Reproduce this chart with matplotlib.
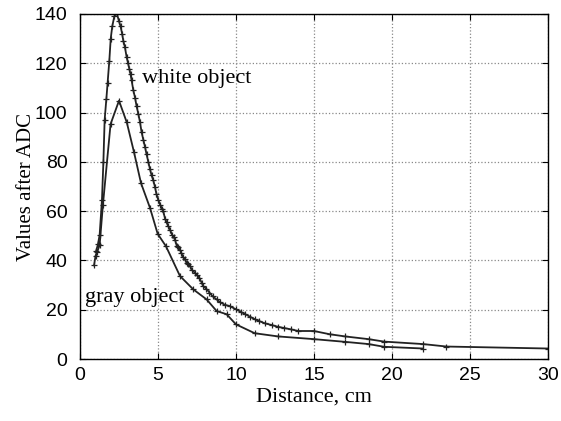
import matplotlib.pyplot as plt

# white object readings
white_x = [1.04, 1.15, 1.26, 1.41, 1.5, 1.58, 1.69, 1.77, 1.88, 1.97, 2.07, 2.2, 2.35,
           2.5, 2.6, 2.7, 2.78, 2.88, 2.99, 3.08, 3.16, 3.24, 3.31, 3.42, 3.53, 3.63,
           3.74, 3.85, 3.95, 4.06, 4.17, 4.27, 4.38, 4.49, 4.59, 4.7, 4.8, 4.9, 5.02,
           5.15, 5.25, 5.34, 5.45, 5.55, 5.65, 5.77, 5.9, 6.0, 6.09, 6.2, 6.3, 6.41,
           6.5, 6.6, 6.73, 6.85, 6.95, 7.05, 7.2, 7.37, 7.5, 7.65, 7.8, 7.9, 8.1, 8.3,
           8.5, 8.76, 9.0, 9.3, 9.6, 10.0, 10.3, 10.6, 10.9, 11.2, 11.5, 11.86, 12.3,
           12.7, 13.1, 13.5, 14.0, 15.0, 16.0, 17.0, 18.5, 19.5, 22.0, 23.5, 30.0]
white_y = [44, 46.5, 50.4, 64.7, 80, 97, 105.5, 112, 121, 130, 135, 139, 140.5,
           137, 135, 132, 129, 126.5, 122.5, 120, 117.8, 115.5, 113, 109, 106, 102.5,
           99.5, 96, 92, 89, 86, 83, 80, 77, 74.5, 72.5, 70, 67, 64.5,
           62.5, 61, 60, 57, 55.5, 54, 52.5, 50.5, 49.5, 48.5, 46, 45.5, 44.4,
           43, 41.5, 40.4, 39, 38.5, 37.7, 36, 35, 34, 33, 31, 29.6, 28.5, 27,
           25.5, 24.2, 23, 22, 21.5, 20.2, 19.2, 18.2, 17.2, 16.2, 15.4, 14.5, 13.8,
           13.1, 12.6, 12.1, 11.4, 11.4, 10.1, 9.2, 8.1, 7.1, 6.1, 5.1, 4.3]

# gray object readings
gray_x = [0.9, 1.0, 1.11, 1.26, 1.47, 1.96, 2.5, 3.0, 3.46, 3.91, 4.49, 4.98, 5.51,
          6.41, 7.26, 8.12, 8.76, 9.4, 10.0, 11.2, 12.7, 15.0, 17.0, 18.5, 19.5, 22.0]
gray_y = [38, 42, 43.6, 46.3, 62.6, 95.3, 104.8, 96, 84, 71.4, 61.3, 50.8, 45.8,
          33.7, 28.3, 24.2, 19.5, 18.2, 14.1, 10.5, 9.2, 8.1, 7.0, 6.1, 5.0, 4.3]

fig = plt.figure(figsize=(5.61, 4.21), dpi=100)
ax = fig.add_axes([0.1426, 0.147, 0.834, 0.82])

ax.plot(white_x, white_y, color='#222222', lw=1.3, marker='+', ms=5, mew=0.9)
ax.plot(gray_x, gray_y, color='#222222', lw=1.3, marker='+', ms=5, mew=0.9)

ax.text(4.0, 114, 'white object', family='Liberation Serif', fontsize=16, va='center')
ax.text(0.35, 25, 'gray object', family='Liberation Serif', fontsize=16, va='center')

ax.set_xlim(0, 30)
ax.set_ylim(0, 140)
ax.set_xticks([0, 5, 10, 15, 20, 25, 30])
ax.set_yticks([0, 20, 40, 60, 80, 100, 120, 140])
ax.grid(True, linestyle=':', color='#888888', lw=0.9)
ax.tick_params(direction='in', top=True, right=True, length=4, labelsize=14)
ax.tick_params(axis='y', pad=9)
ax.tick_params(axis='x', pad=6)
for lab in ax.get_xticklabels() + ax.get_yticklabels():
    lab.set_family('Liberation Sans')
for sp in ax.spines.values():
    sp.set_linewidth(1.0)

ax.set_xlabel('Distance, cm', family='Liberation Serif', fontsize=16, labelpad=2)
ax.set_ylabel('Values after ADC', family='Liberation Serif', fontsize=15, labelpad=-1)

fig.savefig('out.png', dpi=100)
